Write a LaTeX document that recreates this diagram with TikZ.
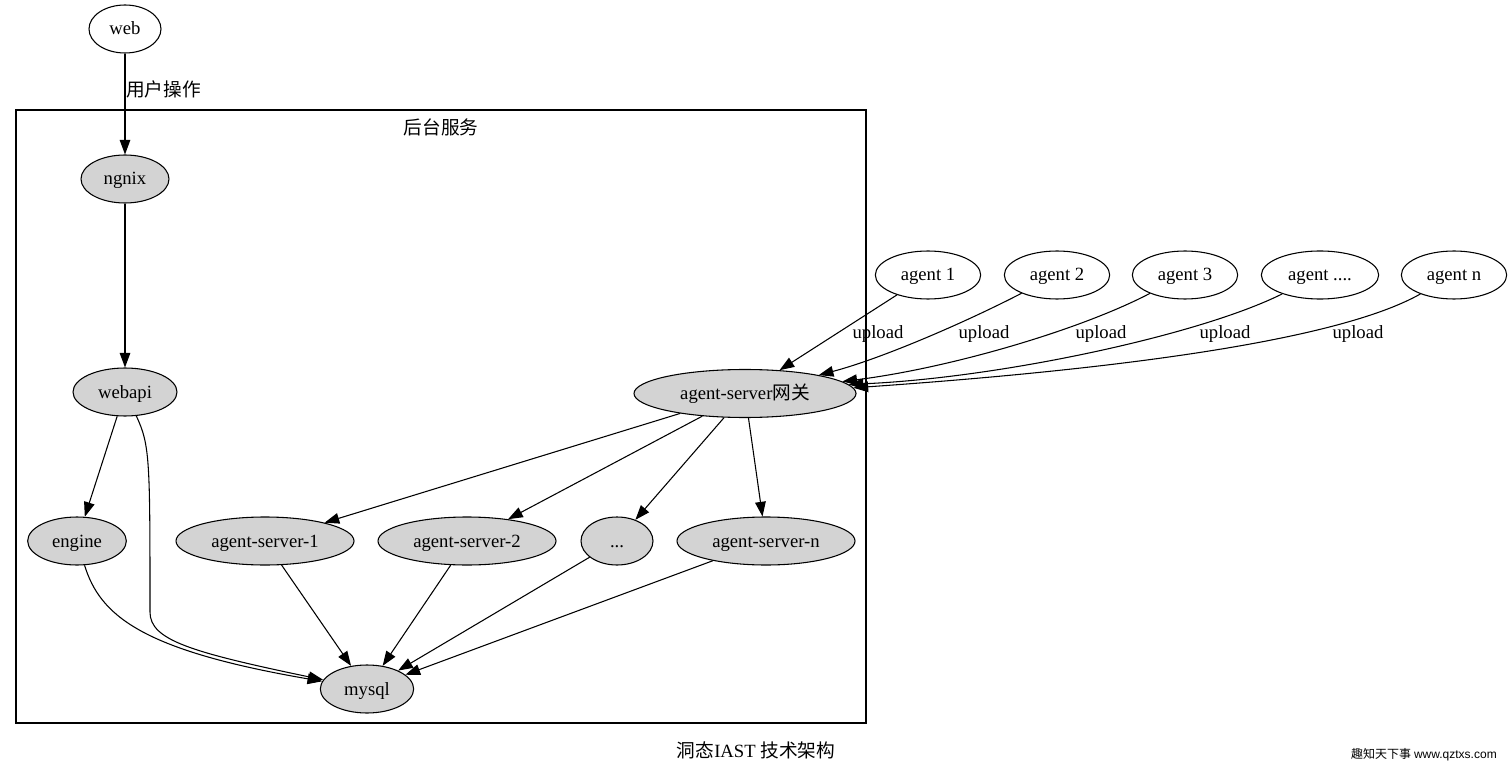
\documentclass[tikz,border=0pt]{standalone}
\usepackage{fontspec}
\setmainfont{Liberation Serif}
\newfontfamily\cjk{Noto Sans CJK SC}
\newfontfamily\wmfont{Liberation Sans}
\usetikzlibrary{arrows.meta}
\usetikzlibrary{shapes.geometric}

\definecolor{nodegray}{HTML}{D3D3D3}

\tikzset{
    outer/.style={ellipse,draw,line width=0.8pt,inner sep=0pt,minimum height=36pt,
        text height=11pt,text depth=2pt},
    inner/.style={outer,fill=nodegray},
    lbl/.style={inner sep=0pt}
}

\begin{document}
\begin{tikzpicture}[x=0.75pt,y=-0.75pt,font=\fontsize{14}{16}\selectfont]
        \useasboundingbox (0,0) rectangle (1512,773);

        % cluster
        \draw[line width=0.8pt] (16,110) rectangle (866,723);
        \node[lbl] (backend) at (441,127) {\cjk 后台服务};

        \node[outer,minimum width=54pt] (web) at (125,29) {web};
        \node[inner,minimum width=66pt] (ngnix) at (125,179) {ngnix};
        \node[inner,minimum width=78pt] (webapi) at (125,392) {webapi};
        \node[inner,minimum width=74pt] (engine) at (77,541) {engine};
        \node[inner,minimum width=133.5pt] (as1) at (265,541) {agent-server-1};
        \node[inner,minimum width=133.5pt] (as2) at (467,541) {agent-server-2};
        \node[inner,minimum width=54pt] (asdots) at (617,541) {...};
        \node[inner,minimum width=133.5pt] (asn) at (766,541) {agent-server-n};
        \node[inner,minimum width=70pt] (mysql) at (367,689) {mysql};
        \node[inner,minimum width=166.5pt] (gw) at (745,393.5) {agent-server{\cjk 网关}};

        \node[outer,minimum width=79pt] (a1) at (928,275) {agent 1};
        \node[outer,minimum width=79pt] (a2) at (1057,275) {agent 2};
        \node[outer,minimum width=79pt] (a3) at (1185,275) {agent 3};
        \node[outer,minimum width=88pt] (a4) at (1320,275) {agent ....};
        \node[outer,minimum width=79pt] (a5) at (1454,275) {agent n};

        \node[lbl,anchor=west] (op) at (126,89) {\cjk 用户操作};
        \node[lbl] (up1) at (878,334) {upload};
        \node[lbl] (up2) at (984,334) {upload};
        \node[lbl] (up3) at (1101,334) {upload};
        \node[lbl] (up4) at (1225,334) {upload};
        \node[lbl] (up5) at (1358,334) {upload};

        \node[lbl] (title) at (756,750) {{\cjk 洞态}IAST {\cjk 技术架构}};
        \node[lbl,anchor=east,font=\fontsize{9}{11}\selectfont] (mark) at (1497,755)
            {{\cjk 趣知天下事} \wmfont www.qztxs.com};

        \coordinate (wm) at (150,612);

        \begin{scope}[>={Triangle[length=11pt,width=8pt]},
                line width=0.8pt,
                every edge/.style={draw,line width=0.8pt}]
            \path [->] (web)    edge (ngnix);
            \path [->] (ngnix)  edge (webapi);
            \path [->] (webapi) edge (engine);
            \draw [->] (webapi) .. controls (150,445) and (150,460) .. (wm)
                                .. controls (150,640) and (190,652) .. (mysql);
            \draw [->] (engine) .. controls (100,615) and (140,650) .. (mysql);
            \path [->] (as1)    edge (mysql);
            \path [->] (as2)    edge (mysql);
            \path [->] (asdots) edge (mysql);
            \path [->] (asn)    edge (mysql);
            \path [->] (gw)     edge (as1);
            \path [->] (gw)     edge (as2);
            \path [->] (gw)     edge (asdots);
            \path [->] (gw)     edge (asn);
            \path [->] (a1)     edge (gw.34);
            \draw [->] (a2) .. controls (962,324) and (880,359) .. (gw.14);
            \draw [->] (a3) .. controls (1080,330) and (950,368) .. (gw.7);
            \draw [->] (a4) .. controls (1200,335) and (1000,378) .. (gw.5);
            \draw [->] (a5) .. controls (1330,345) and (1080,372) .. (gw.3);
        \end{scope}
    \end{tikzpicture}
\end{document}
